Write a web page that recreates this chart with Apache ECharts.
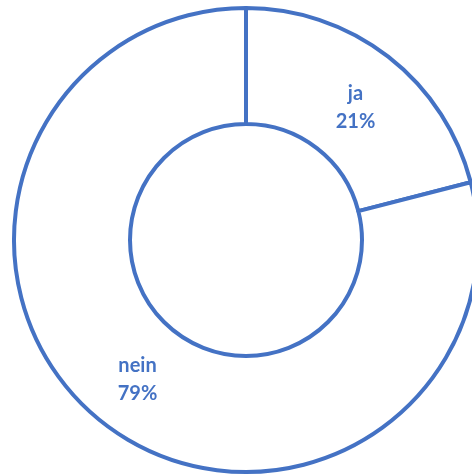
<!DOCTYPE html>
<html><head><meta charset="utf-8">
<script src="https://cdn.jsdelivr.net/npm/echarts@6/dist/echarts.min.js"></script>
<style>html,body{margin:0;padding:0;background:#fff;}#c{width:472px;height:475px;}</style>
</head><body><div id="c"></div>
<script>
const categories = ['ja', 'nein'];
const values = [21, 79];
const labels = ['21%', '79%'];
const labelOffsets = [[1, 7], [0, 0]];

const chart = echarts.init(document.getElementById('c'), null, {renderer: 'canvas'});
chart.setOption({
  animation: false,
  series: [{
    type: 'pie',
    center: [246, 240],
    radius: [116, 232],
    startAngle: 90,
    clockwise: true,
    silent: true,
    data: categories.map((c, i) => ({name: c, value: values[i], label: {offset: labelOffsets[i]}})),
    itemStyle: {color: '#ffffff', borderColor: '#4472C4', borderWidth: 4},
    label: {
      position: 'inside',
      formatter: p => p.name + '\n' + labels[p.dataIndex],
      color: '#4472C4',
      fontFamily: 'Lato',
      fontWeight: 'bold',
      fontSize: 20,
      lineHeight: 28,
      align: 'center'
    },
    labelLine: {show: false}
  }]
});
</script></body></html>
